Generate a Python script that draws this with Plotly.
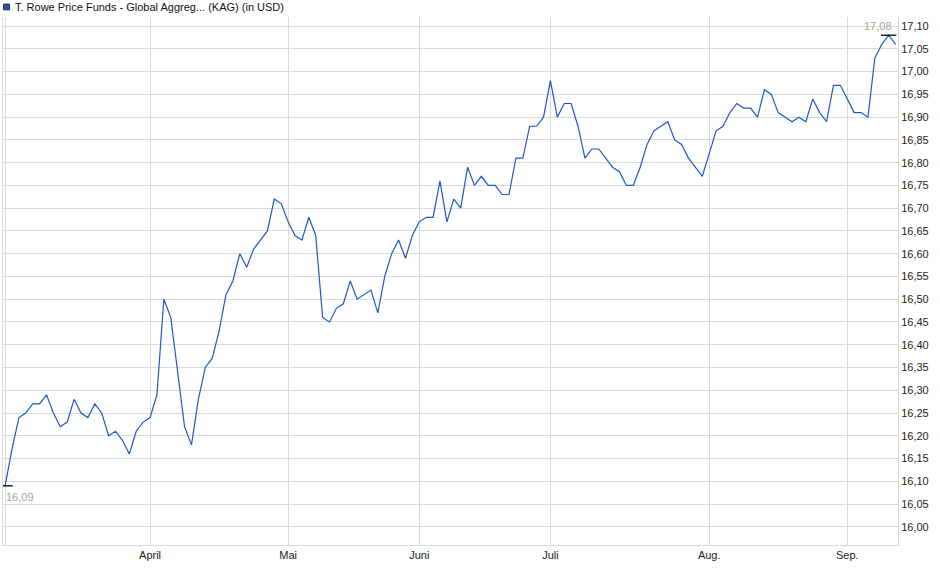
import pandas as pd
import plotly.graph_objects as go

# Trading days (Luxembourg calendar) 2025-03-03 .. 2025-09-10
holidays = ["2025-04-18", "2025-04-21", "2025-05-01", "2025-05-09",
            "2025-05-29", "2025-06-09", "2025-06-23", "2025-08-15"]
days = [d for d in pd.bdate_range("2025-03-03", "2025-09-10").strftime("%Y-%m-%d") if d not in holidays]

mar = [16.09, 16.17, 16.24, 16.25, 16.27, 16.27, 16.29, 16.25, 16.22, 16.23, 16.28,
       16.25, 16.24, 16.27, 16.25, 16.20, 16.21, 16.19, 16.16, 16.21, 16.23]
apr = [16.24, 16.29, 16.50, 16.46, 16.34, 16.22, 16.18, 16.28, 16.35, 16.37, 16.43,
       16.51, 16.54, 16.60, 16.57, 16.61, 16.63, 16.65, 16.72, 16.71]
may = [16.67, 16.64, 16.63, 16.68, 16.64, 16.46, 16.45, 16.48, 16.49, 16.54, 16.50,
       16.51, 16.52, 16.47, 16.55, 16.60, 16.63, 16.59, 16.64]
jun = [16.67, 16.68, 16.68, 16.76, 16.67, 16.72, 16.70, 16.79, 16.75, 16.77, 16.75,
       16.75, 16.73, 16.73, 16.81, 16.81, 16.88, 16.88, 16.90]
jul = [16.98, 16.90, 16.93, 16.93, 16.88, 16.81, 16.83, 16.83, 16.81, 16.79, 16.78,
       16.75, 16.75, 16.79, 16.84, 16.87, 16.88, 16.89, 16.85, 16.84, 16.81, 16.79, 16.77]
aug = [16.82, 16.87, 16.88, 16.91, 16.93, 16.92, 16.92, 16.90, 16.96, 16.95, 16.91,
       16.90, 16.89, 16.90, 16.89, 16.94, 16.91, 16.89, 16.97, 16.97]
sep = [16.94, 16.91, 16.91, 16.90, 17.03, 17.06, 17.08, 17.06]
values = mar + apr + may + jun + jul + aug + sep

month_starts = ["2025-03-03", "2025-04-01", "2025-05-02", "2025-06-02", "2025-07-01", "2025-08-01", "2025-09-01"]
month_labels = ["", "April", "Mai", "Juni", "Juli", "Aug.", "Sep."]
series_name = "T. Rowe Price Funds - Global Aggreg... (KAG) (in USD)"

FONT = "Liberation Sans, Arial, sans-serif"
GRID = "#dadada"
BLUE = "#1c59c4"

i_min = values.index(min(values))
i_max = values.index(max(values))

fig = go.Figure()
fig.add_trace(go.Scatter(x=days, y=values, mode="lines",
                         line=dict(color=BLUE, width=1.2), hoverinfo="x+y",
                         showlegend=False))
fig.add_trace(go.Scatter(x=[days[i_min], days[i_max]], y=[values[i_min], values[i_max]],
                         mode="markers",
                         marker=dict(symbol="line-ew", size=11, line=dict(color="#000", width=1.3)),
                         showlegend=False, hoverinfo="skip"))

fig.add_annotation(x=days[i_min], y=values[i_min], text=f"{values[i_min]:.2f}".replace(".", ","),
                   showarrow=False, xanchor="left", yanchor="top", xshift=-1, yshift=-3,
                   font=dict(family=FONT, size=11, color="#aaa49c"))
fig.add_annotation(x=days[i_max], y=values[i_max], text=f"{values[i_max]:.2f}".replace(".", ","),
                   showarrow=False, xanchor="right", yanchor="bottom", xshift=5, yshift=1,
                   font=dict(family=FONT, size=11, color="#aaa49c"))

# legend
fig.add_shape(type="rect", xref="paper", yref="paper", x0=0.0006, x1=0.0073, y0=1.0135, y1=1.0245,
              fillcolor="#1f56c0", line=dict(color="#333", width=1))
fig.add_annotation(xref="paper", yref="paper", x=0.0108, y=1.0195, text=series_name,
                   showarrow=False, xanchor="left", yanchor="middle",
                   font=dict(family=FONT, size=11, color="#111"))

fig.update_layout(
    width=940, height=579,
    margin=dict(l=3, r=42, t=17, b=34),
    paper_bgcolor="white", plot_bgcolor="white",
    separators=",.",
    font=dict(family=FONT, size=11, color="#222"),
    hovermode="closest",
)
fig.update_xaxes(type="category", categoryorder="array", categoryarray=days,
                 range=[-0.3, len(days) - 1 + 0.35],
                 tickmode="array", tickvals=month_starts, ticktext=month_labels,
                 showgrid=True, gridcolor=GRID, gridwidth=1,
                 showline=True, linecolor=GRID, linewidth=1,
                 ticks="", zeroline=False,
                 tickfont=dict(family=FONT, size=11, color="#222"))
fig.update_yaxes(side="right", range=[15.96, 17.12], tick0=16.0, dtick=0.05,
                 tickformat=".2f", showgrid=True, gridcolor=GRID, gridwidth=1,
                 showline=True, mirror=True, linecolor=GRID, linewidth=1,
                 ticks="", zeroline=False,
                 tickfont=dict(family=FONT, size=11, color="#222"))

fig.write_html("out.html", config={"displayModeBar": False},
               post_script="document.body.style.margin='0';document.body.style.overflow='hidden';")
